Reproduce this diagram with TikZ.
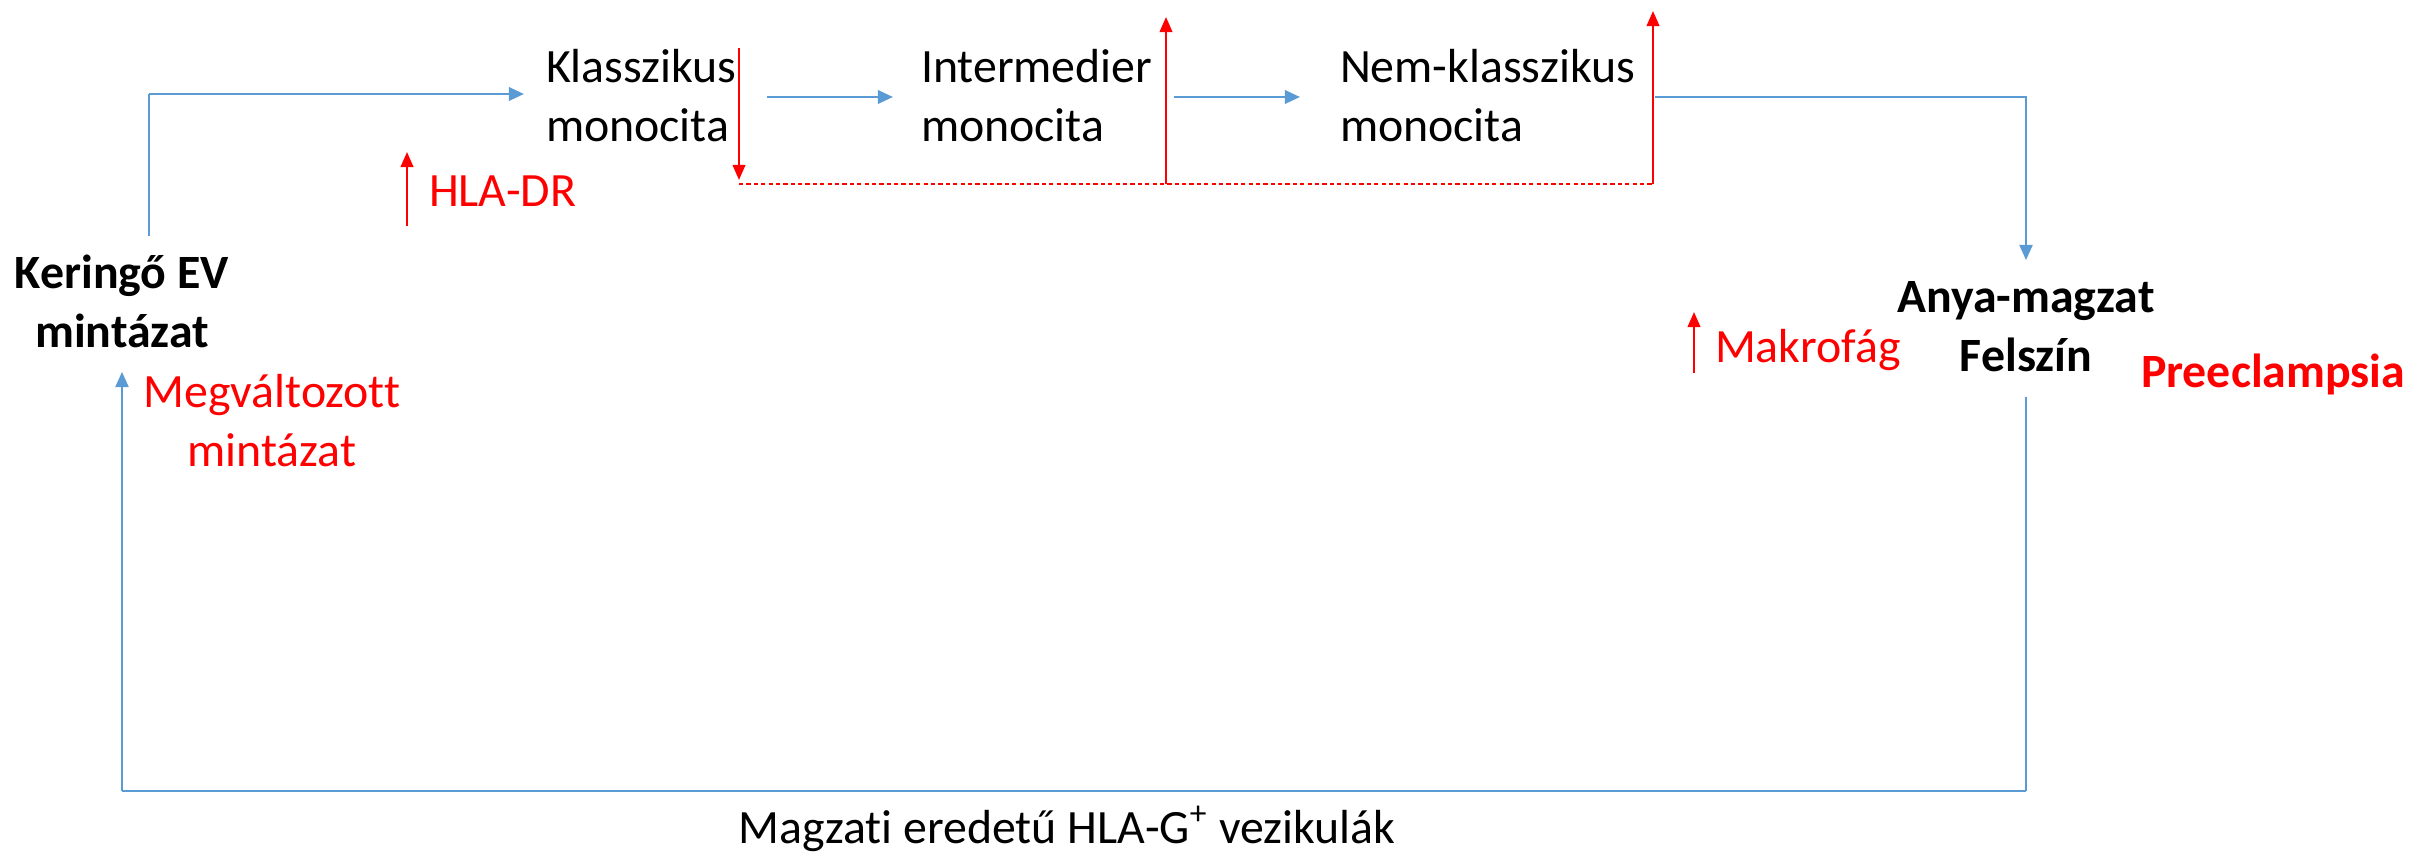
\documentclass[tikz,border=0pt]{standalone}
\usepackage{fontspec}
\setmainfont{Carlito}[Ligatures=NoCommon]
\usetikzlibrary{arrows.meta}
\definecolor{flowblue}{HTML}{5B9BD5}
\definecolor{markred}{HTML}{FF0000}
\tikzset{
  txt/.style={inner sep=0pt, outer sep=0pt, font=\fontsize{13.6pt}{16.8pt}\selectfont},
  lbl/.style={txt, align=left, anchor=base west},
  ctr/.style={txt, align=center, anchor=base},
  boldtxt/.style={font=\fontsize{13.6pt}{16.8pt}\selectfont\bfseries},
  flowthin/.style={draw=flowblue, line width=0.35pt},
  flowthick/.style={draw=flowblue, line width=0.75pt},
  flowtip/.style={-{Triangle[length=4.3pt,width=3.8pt]}},
  marker/.style={draw=markred, line width=0.6pt, -{Triangle[length=4.3pt,width=3.6pt]}},
  trend/.style={draw=markred, line width=0.4pt, dash pattern=on 1.2pt off 0.9pt},
}
\begin{document}
\begin{tikzpicture}[x=0.01cm, y=-0.01cm]
\useasboundingbox (0,0) rectangle (2412,852);

% text blocks (two-line nodes are placed by the baseline of their last line)
\node[lbl] (klass) at (546,142) {Klasszikus\\monocita};
\node[lbl] (inter) at (921,142) {Intermedier\\monocita};
\node[lbl] (nemk) at (1340,142) {Nem-klasszikus\\monocita};
\node[ctr, boldtxt] (kering) at (122,348) {Keringő EV\\mintázat};
\node[ctr, text=markred] (megv) at (272,467) {Megváltozott\\mintázat};
\node[lbl, text=markred] (hladr) at (429,207) {HLA-DR};
\node[ctr, boldtxt] (anya) at (2026,372) {Anya-magzat\\Felszín};
\node[lbl, text=markred] (makro) at (1715,363) {Makrofág};
\node[lbl, text=markred, boldtxt] (pre) at (2141,388) {Preeclampsia};
\node[ctr] (vez) at (1067,843) {Magzati eredetű HLA-G\textsuperscript{+} vezikulák};

% bend and end points of the flow
\coordinate (kOut) at (149,236);
\coordinate (kBend) at (149,94);
\coordinate (kIn) at (524,94);
\coordinate (a1s) at (767,97);
\coordinate (a1e) at (893,97);
\coordinate (a2s) at (1174,97);
\coordinate (a2e) at (1300,97);
\coordinate (nOut) at (1655,97);
\coordinate (nBend) at (2026,97);
\coordinate (aIn) at (2026,260);
\coordinate (aOut) at (2026,397);
\coordinate (bR) at (2026,791);
\coordinate (bL) at (122,791);
\coordinate (kIn2) at (122,372);

% main flow
\draw[flowthin] (kOut) -- (kBend);
\draw[flowthick, flowtip] (kBend) -- (kIn);
\draw[flowthick, flowtip] (a1s) -- (a1e);
\draw[flowthick, flowtip] (a2s) -- (a2e);
\draw[flowthin, flowtip] (nOut) -- (nBend) -- (aIn);
\draw[flowthin] (aOut) -- (bR);
\draw[flowthick] (bR) -- (bL);
\draw[flowthin, flowtip] (bL) -- (kIn2);

% expression markers
\coordinate (d1top) at (739,48);
\coordinate (d1tip) at (739,180);
\coordinate (d1base) at (739,184);
\coordinate (u1base) at (1166,184);
\coordinate (u1tip) at (1166,17);
\coordinate (u2base) at (1653,184);
\coordinate (u2tip) at (1653,11);
\draw[marker] (d1top) -- (d1tip);
\draw[trend] (d1base) -- (u2base);
\draw[marker] (u1base) -- (u1tip);
\draw[marker] (u2base) -- (u2tip);

\coordinate (hBase) at (407,226);
\coordinate (hTip) at (407,152);
\draw[marker] (hBase) -- (hTip);
\coordinate (mBase) at (1694,373);
\coordinate (mTip) at (1694,312);
\draw[marker] (mBase) -- (mTip);
\end{tikzpicture}
\end{document}
